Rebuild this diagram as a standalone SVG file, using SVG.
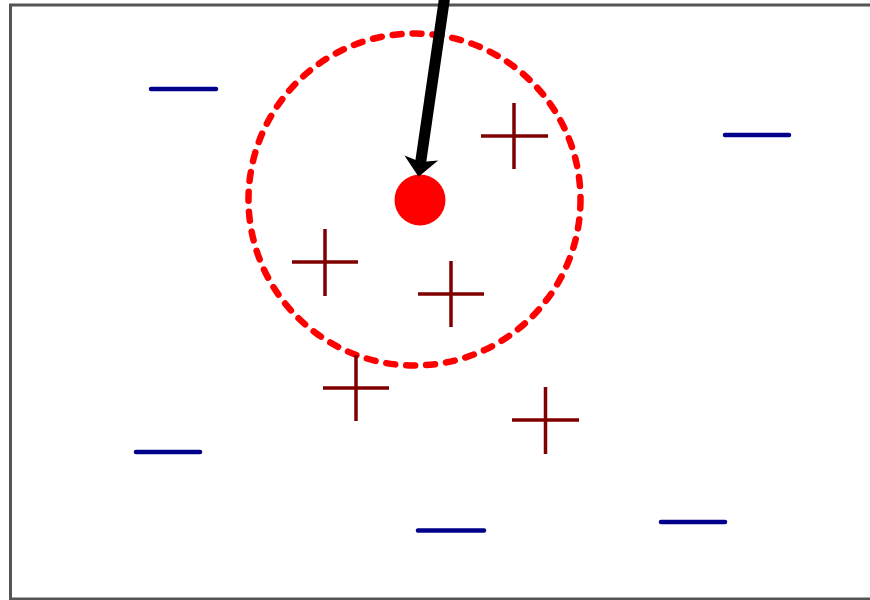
<svg xmlns="http://www.w3.org/2000/svg" width="870" height="600" viewBox="0 0 870 600">
  <defs>
    <style>
      .plus { stroke: #800000; stroke-width: 3.5; fill: none; }
      .minus { stroke: #00008b; stroke-width: 4.5; stroke-linecap: round; fill: none; }
    </style>
    <marker id="head" markerUnits="userSpaceOnUse" markerWidth="22" markerHeight="36" refX="4" refY="18" orient="auto" overflow="visible">
      <path d="M0,1 L19,18 L0,35 L4,18 Z" fill="#000"/>
    </marker>
  </defs>
  <rect width="870" height="600" fill="#fff"/>
  <g id="frame">
    <path d="M872,5 L10.5,5 L10.5,599 L872,599" fill="none" stroke="#555" stroke-width="3"/>
  </g>
  <g id="region">
    <circle cx="414.5" cy="199.5" r="166" fill="none" stroke="#ff0000" stroke-width="6.5" stroke-dasharray="9 11" stroke-linecap="round"/>
  </g>
  <g id="query">
    <circle cx="420" cy="200" r="25.5" fill="#ff0000"/>
  </g>
  <g id="positives">
    <g id="p1"><path class="plus" d="M292,262 H358 M325,229 V296"/></g>
    <g id="p2"><path class="plus" d="M418,294 H484 M451,261 V327"/></g>
    <g id="p3"><path class="plus" d="M481,136 H548 M514,103 V169"/></g>
    <g id="p4"><path class="plus" d="M323,388 H389 M356,355 V421"/></g>
    <g id="p5"><path class="plus" d="M512,420 H579 M545.5,387 V454"/></g>
  </g>
  <g id="negatives">
    <g id="n1"><path class="minus" d="M151,89 H216"/></g>
    <g id="n2"><path class="minus" d="M725,135 H789"/></g>
    <g id="n3"><path class="minus" d="M136,452 H200"/></g>
    <g id="n4"><path class="minus" d="M418,530.5 H484"/></g>
    <g id="n5"><path class="minus" d="M661,522 H725"/></g>
  </g>
  <g id="connectors">
    <line x1="445" y1="-5" x2="420.7" y2="162" stroke="#000" stroke-width="11" marker-end="url(#head)"/>
  </g>
</svg>
